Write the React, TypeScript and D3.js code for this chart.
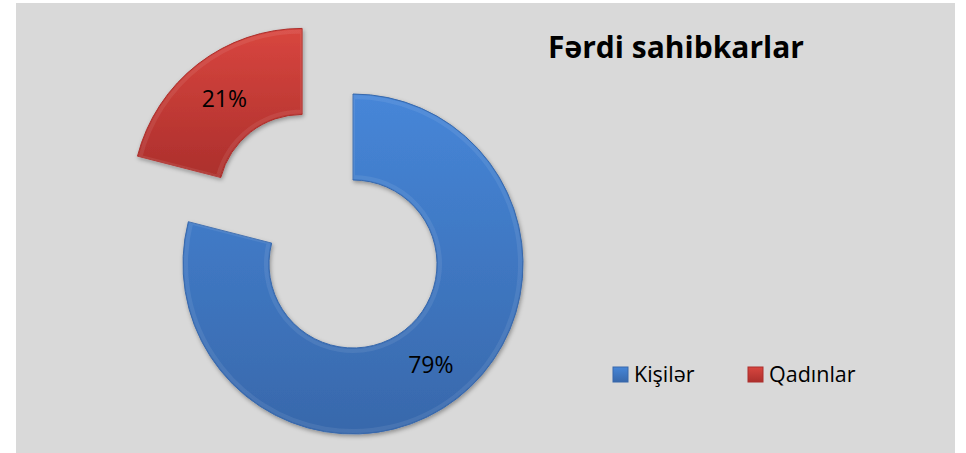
import * as d3 from "d3";

// chart values
const categories = ["Kişilər", "Qadınlar"];
const shares = [79, 21];
const sliceColors = [
  ["#4686d8", "#3868ab"],
  ["#d8463f", "#ac2f2c"],
];
const chartTitle = "Fərdi sahibkarlar";

const W = 966;
const H = 453;
const cx = 353;
const cy = 264;
const outerR = 170;
const innerR = 84;
const explode = [0, 83]; // red slice pulled out

const FONT = "'Open Sans', sans-serif";

const App = () => {
  const pie = d3
    .pie<number>()
    .sort(null)
    .value((d) => d);
  const arcs = pie(shares);
  const arc = d3.arc<d3.PieArcDatum<number>>().innerRadius(innerR).outerRadius(outerR);
  const bevel = d3.arc<d3.PieArcDatum<number>>().innerRadius(innerR + 3).outerRadius(outerR - 3);

  return (
    <svg
      width={W}
      height={H}
      style={{ position: "absolute", left: 0, top: 0, display: "block" }}
    >
      <defs>
        {sliceColors.map((c, i) => (
          <linearGradient key={i} id={`g${i}`} x1="0" y1="0" x2="0" y2="1">
            <stop offset="0" stopColor={c[0]} />
            <stop offset="1" stopColor={c[1]} />
          </linearGradient>
        ))}
        <filter id="shadow" x="-20%" y="-20%" width="140%" height="140%">
          <feDropShadow dx="1" dy="2" stdDeviation="2" floodColor="#000" floodOpacity="0.35" />
        </filter>
      </defs>
      <rect x={16} y={3} width={939} height={450} fill="#d9d9d9" />

      {arcs.map((a, i) => {
        const mid = (a.startAngle + a.endAngle) / 2;
        const dx = Math.sin(mid) * explode[i];
        const dy = -Math.cos(mid) * explode[i];
        const [lx, ly] = arc.centroid(a);
        return (
          <g key={i} transform={`translate(${cx + dx},${cy + dy})`}>
            <path
              d={arc(a) ?? ""}
              fill={`url(#g${i})`}
              stroke={sliceColors[i][1]}
              strokeWidth={1}
              filter="url(#shadow)"
            />
            <path
              d={bevel(a) ?? ""}
              fill="none"
              stroke="#ffffff"
              strokeOpacity={0.08}
              strokeWidth={4}
            />
            <text
              x={lx}
              y={ly}
              textAnchor="middle"
              dominantBaseline="central"
              fontFamily={FONT}
              fontSize={23}
              fill="#000"
            >
              {shares[i]}%
            </text>
          </g>
        );
      })}

      <text
        x={676}
        y={58}
        textAnchor="middle"
        fontFamily={FONT}
        fontWeight="bold"
        fontSize={30}
        fill="#000"
      >
        {chartTitle}
      </text>

      {categories.map((c, i) => {
        const x0 = i === 0 ? 613 : 748;
        return (
          <g key={c}>
            <rect
              x={x0}
              y={367}
              width={15}
              height={15}
              fill={`url(#g${i})`}
              stroke={sliceColors[i][1]}
              strokeWidth={1}
            />
            <text x={x0 + 21} y={382} fontFamily={FONT} fontSize={21.5} fill="#000">
              {c}
            </text>
          </g>
        );
      })}
    </svg>
  );
};

export default App;
